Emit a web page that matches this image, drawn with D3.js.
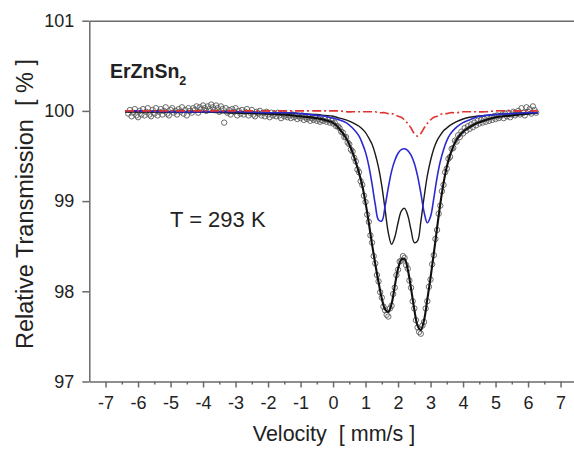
<!DOCTYPE html>
<html>
<head>
<meta charset="utf-8">
<script src="https://cdnjs.cloudflare.com/ajax/libs/d3/7.8.5/d3.min.js"></script>
<style>
html,body{margin:0;padding:0;background:#fff;}
svg{display:block;}
text{font-family:"Liberation Sans",Arial,Helvetica,sans-serif;fill:#222;}
</style>
</head>
<body>
<svg id="chart" width="574" height="450"></svg>
<script>
// ---- measured spectrum (velocity in mm/s, relative transmission in %) ----
const velocity = [
-6.30,-6.25,-6.20,-6.15,-6.10,-6.05,-6.00,-5.95,-5.90,-5.85,
-5.80,-5.75,-5.70,-5.65,-5.60,-5.55,-5.50,-5.45,-5.40,-5.35,
-5.30,-5.25,-5.20,-5.15,-5.10,-5.05,-5.00,-4.95,-4.90,-4.85,
-4.80,-4.75,-4.70,-4.65,-4.60,-4.55,-4.50,-4.45,-4.40,-4.35,
-4.30,-4.25,-4.20,-4.15,-4.10,-4.05,-4.00,-3.95,-3.90,-3.85,
-3.80,-3.75,-3.70,-3.65,-3.60,-3.55,-3.50,-3.45,-3.40,-3.35,
-3.30,-3.25,-3.20,-3.15,-3.10,-3.05,-3.00,-2.95,-2.90,-2.85,
-2.80,-2.75,-2.70,-2.65,-2.60,-2.55,-2.50,-2.45,-2.40,-2.35,
-2.30,-2.25,-2.20,-2.15,-2.10,-2.05,-2.00,-1.95,-1.90,-1.85,
-1.80,-1.75,-1.70,-1.65,-1.60,-1.55,-1.50,-1.45,-1.40,-1.35,
-1.30,-1.25,-1.20,-1.15,-1.10,-1.05,-1.00,-0.95,-0.90,-0.85,
-0.80,-0.75,-0.70,-0.65,-0.60,-0.55,-0.50,-0.45,-0.40,-0.35,
-0.30,-0.25,-0.20,-0.15,-0.10,-0.05,0.00,0.05,0.10,0.15,
0.20,0.25,0.30,0.35,0.40,0.45,0.50,0.55,0.60,0.65,
0.70,0.75,0.80,0.85,0.90,0.95,1.00,1.05,1.10,1.15,
1.20,1.25,1.30,1.35,1.40,1.45,1.50,1.55,1.60,1.65,
1.70,1.75,1.80,1.85,1.90,1.95,2.00,2.05,2.10,2.15,
2.20,2.25,2.30,2.35,2.40,2.45,2.50,2.55,2.60,2.65,
2.70,2.75,2.80,2.85,2.90,2.95,3.00,3.05,3.10,3.15,
3.20,3.25,3.30,3.35,3.40,3.45,3.50,3.55,3.60,3.65,
3.70,3.75,3.80,3.85,3.90,3.95,4.00,4.05,4.10,4.15,
4.20,4.25,4.30,4.35,4.40,4.45,4.50,4.55,4.60,4.65,
4.70,4.75,4.80,4.85,4.90,4.95,5.00,5.05,5.10,5.15,
5.20,5.25,5.30,5.35,5.40,5.45,5.50,5.55,5.60,5.65,
5.70,5.75,5.80,5.85,5.90,5.95,6.00,6.05,6.10,6.15,
6.20,6.25];
const transmission = [
99.97,100.01,99.94,99.98,100.02,99.95,99.93,100.00,99.96,100.02,
99.95,99.99,100.03,99.96,99.94,100.01,99.97,100.03,99.95,99.99,
100.02,99.96,100.00,100.04,99.97,99.95,100.01,100.03,99.98,100.00,
99.96,100.02,99.99,100.04,99.97,100.01,99.95,100.03,100.00,99.98,
100.03,100.01,100.05,99.98,100.04,100.02,100.06,100.03,100.00,100.05,
100.02,100.07,100.04,100.01,100.06,100.03,99.99,100.05,100.02,99.87,
100.03,99.98,100.01,99.96,100.02,99.99,100.03,99.95,100.00,99.97,
100.01,99.96,99.99,100.02,99.95,99.98,100.01,99.96,99.94,99.99,
99.97,100.00,99.95,99.98,99.94,99.99,99.96,99.93,99.98,99.95,
99.97,99.94,99.98,99.95,99.92,99.97,99.94,99.96,99.93,99.95,
99.92,99.96,99.93,99.95,99.91,99.94,99.92,99.95,99.90,99.93,
99.91,99.93,99.89,99.92,99.90,99.93,99.89,99.91,99.88,99.90,
99.89,99.91,99.88,99.90,99.87,99.89,99.86,99.87,99.83,99.83,
99.81,99.77,99.76,99.71,99.71,99.65,99.63,99.57,99.55,99.48,
99.44,99.35,99.32,99.22,99.18,99.06,98.99,98.85,98.77,98.62,
98.54,98.39,98.31,98.18,98.11,97.99,97.93,97.83,97.79,97.74,
97.72,97.81,97.84,97.97,98.04,98.18,98.24,98.33,98.34,98.39,
98.37,98.29,98.25,98.12,98.04,97.89,97.81,97.68,97.60,97.55,
97.53,97.62,97.66,97.81,97.89,98.05,98.13,98.30,98.40,98.58,
98.68,98.86,98.95,99.11,99.18,99.32,99.36,99.47,99.49,99.58,
99.59,99.67,99.66,99.73,99.71,99.77,99.75,99.81,99.78,99.83,
99.80,99.85,99.82,99.87,99.84,99.89,99.86,99.90,99.87,99.91,
99.88,99.92,99.89,99.93,99.90,99.94,99.91,99.95,99.92,99.94,
99.96,99.92,99.97,99.94,99.98,99.93,99.96,99.99,99.95,99.97,
100.00,99.96,100.03,99.98,99.95,100.04,99.99,100.02,99.97,100.05,
100.01,99.98];

// ---- fitted curves at these velocities ----
const fitVelocity = [-6.4,-6,-5,-4,-3,-2,-1.5,-1,-0.5,-0.25,
0,0.2,0.4,0.6,0.8,
0.9,1.0,1.1,1.2,1.3,1.4,1.5,1.6,1.7,1.8,1.9,2.0,2.1,2.2,2.3,2.4,2.5,2.6,2.7,2.8,2.9,3.0,3.1,3.2,3.3,3.4,3.5,3.6,
3.8,4.0,4.2,4.4,4.7,5.0,5.5,6.0,6.3];
const fitTotal = [99.99,99.99,99.99,99.99,99.98,99.97,99.96,99.94,99.92,99.90,
99.87,99.80,99.70,99.54,99.31,
99.17,98.98,98.76,98.52,98.30,98.10,97.92,97.80,97.77,97.86,98.06,98.25,98.35,98.36,98.24,98.03,97.80,97.62,97.57,97.68,97.91,98.15,98.42,98.70,98.97,99.20,99.38,99.51,
99.68,99.77,99.82,99.86,99.90,99.93,99.95,99.97,99.98];
const fitSite1 = [100.00,100.00,99.99,99.99,99.99,99.98,99.98,99.97,99.95,99.94,
99.92,99.90,99.87,99.81,99.72,
99.64,99.54,99.39,99.19,98.96,98.79,98.78,98.94,99.15,99.33,99.45,99.53,99.57,99.58,99.56,99.51,99.42,99.28,99.09,98.88,98.76,98.83,99.03,99.26,99.44,99.57,99.67,99.74,
99.82,99.87,99.90,99.93,99.95,99.96,99.97,99.98,99.98];
const fitSite2 = [100.00,100.00,99.99,99.99,99.99,99.98,99.98,99.97,99.96,99.95,
99.94,99.92,99.90,99.87,99.83,
99.80,99.76,99.70,99.63,99.52,99.37,99.17,98.91,98.65,98.52,98.60,98.76,98.89,98.92,98.84,98.68,98.54,98.56,98.77,99.04,99.28,99.45,99.58,99.67,99.73,99.78,99.81,99.84,
99.88,99.91,99.93,99.94,99.95,99.96,99.97,99.98,99.98];
const fitSinglet = [100.00,100.00,100.00,100.00,100.00,100.00,100.00,100.00,100.00,100.00,
100.00,100.00,99.99,99.99,99.99,
99.99,99.99,99.99,99.99,99.99,99.98,99.98,99.98,99.97,99.97,99.96,99.94,99.93,99.90,99.86,99.81,99.75,99.72,99.75,99.81,99.86,99.90,99.93,99.94,99.96,99.97,99.97,99.98,
99.98,99.99,99.99,99.99,99.99,100.00,100.00,100.00,100.00];

const xTicks = [-7,-6,-5,-4,-3,-2,-1,0,1,2,3,4,5,6,7];
const xMinorTicks = [-6.5,-5.5,-4.5,-3.5,-2.5,-1.5,-0.5,0.5,1.5,2.5,3.5,4.5,5.5,6.5];
const yTicks = [97,98,99,100,101];

// ---- drawing ----
const svg = d3.select("#chart");
const x = d3.scaleLinear().domain([-7.5, 7.5]).range([89.3, 576.8]);
const y = d3.scaleLinear().domain([97, 101]).range([381.5, 20.7]);
const axisColor = "#6a6a6a";

// data circles
const pts = velocity.map((v, i) => [v, transmission[i]]);
svg.append("g").selectAll("circle").data(pts).join("circle")
  .attr("cx", d => x(d[0])).attr("cy", d => y(d[1])).attr("r", 2.7)
  .attr("fill", "none").attr("stroke", "#5a5a5a").attr("stroke-width", 0.9);

function curve(vals){
  return d3.line().x((d, i) => x(fitVelocity[i])).y(d => y(d))
    .curve(d3.curveCatmullRom.alpha(0.5))(vals);
}
svg.append("path").attr("d", curve(fitTotal)).attr("fill", "none")
  .attr("stroke", "#111").attr("stroke-width", 2.1);
svg.append("path").attr("d", curve(fitSite2)).attr("fill", "none")
  .attr("stroke", "#1a1a1a").attr("stroke-width", 1.4);
svg.append("path").attr("d", curve(fitSite1)).attr("fill", "none")
  .attr("stroke", "#2a2ad2").attr("stroke-width", 1.6);
svg.append("path").attr("d", curve(fitSinglet)).attr("fill", "none")
  .attr("stroke", "#e0322e").attr("stroke-width", 1.6)
  .attr("stroke-dasharray", "9,3,2,3");

// axes
function styleAxis(g){
  g.selectAll("path,line").attr("stroke", axisColor).attr("stroke-width", 1.5);
  g.selectAll("text").attr("fill", "#222").style("font-size", "18px")
    .style("font-family", '"Liberation Sans",Arial,sans-serif');
}
const xAxis = svg.append("g").attr("transform", `translate(0,${y(97)})`)
  .call(d3.axisBottom(x).tickValues(xTicks).tickSize(6).tickSizeOuter(0).tickPadding(9)
    .tickFormat(d3.format("d")));
styleAxis(xAxis);
xAxis.selectAll("text").text(d => d < 0 ? "-" + Math.abs(d) : d);
const xMinor = svg.append("g").attr("transform", `translate(0,${y(97)})`)
  .call(d3.axisBottom(x).tickValues(xMinorTicks).tickSize(3).tickSizeOuter(0).tickFormat(""));
styleAxis(xMinor);
xMinor.select(".domain").remove();

const yAxis = svg.append("g").attr("transform", `translate(${x(-7.5)},0)`)
  .call(d3.axisLeft(y).tickValues(yTicks).tickSize(7).tickSizeOuter(0).tickPadding(8)
    .tickFormat(d3.format("d")));
styleAxis(yAxis);

const topAxis = svg.append("g").attr("transform", `translate(0,${y(101)})`)
  .call(d3.axisTop(x).tickValues([]).tickSizeOuter(0));
styleAxis(topAxis);

// titles
svg.append("text").attr("x", 334).attr("y", 441).attr("text-anchor", "middle")
  .style("font-size", "21.5px").attr("xml:space", "preserve").text("Velocity  [ mm/s ]");
svg.append("text").attr("transform", "translate(33,204) rotate(-90)")
  .attr("text-anchor", "middle").style("font-size", "23.5px")
  .attr("xml:space", "preserve").text("Relative Transmission  [ % ]");

// annotations
const lab = svg.append("text").attr("x", 110).attr("y", 78)
  .style("font-size", "19.5px").style("font-weight", "bold");
lab.append("tspan").text("ErZnSn");
lab.append("tspan").attr("dy", 7).style("font-size", "12.5px").text("2");
svg.append("text").attr("x", 170).attr("y", 227).style("font-size", "22px").text("T = 293 K");
</script>
</body>
</html>
